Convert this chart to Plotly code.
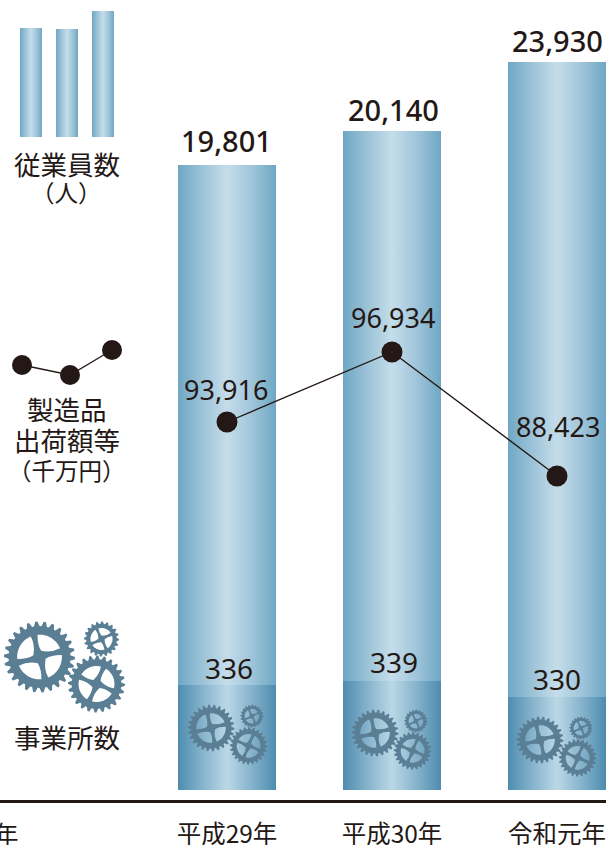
import math
import plotly.graph_objects as go

# ---- data -------------------------------------------------------------
years = ["平成29年", "平成30年", "令和元年"]
employees = ["19,801", "20,140", "23,930"]
shipments = ["93,916", "96,934", "88,423"]
sites = ["336", "339", "330"]
# drawn heights (the original artwork is not to scale)
employee_heights = [625, 659, 728]
shipment_heights = [368, 438, 314]
site_heights = [105, 109, 93]
# pictograph samples in the left-hand key
key_bar_heights = [109, 108, 126]
key_line_heights = [435, 425, 450]

INK = "#231815"
GEAR = "#5A7F95"
CJK = "Noto Sans CJK JP"
NUM = "Noto Sans"
UPPER = [[0, "#6FA7C4"], [0.25, "#9CC3D8"], [0.5, "#C5DDEA"], [0.75, "#A0C5DA"], [1, "#6FA7C4"]]
LOWER = [[0, "#4E8CAF"], [0.25, "#86B3CC"], [0.5, "#BAD8E6"], [0.75, "#86B3CC"], [1, "#4E8CAF"]]
BAR_W = 98 / 165

idx = list(range(len(years)))
fig = go.Figure()


def grad_rect(x0, x1, y0, y1, scale, **kw):
    fig.add_trace(go.Scatter(
        x=[x0, x1, x1, x0, x0], y=[y0, y0, y1, y1, y0], mode="lines",
        line=dict(width=0), fill="toself", hoverinfo="skip", showlegend=False,
        fillgradient=dict(type="horizontal", colorscale=scale), **kw))


fig.add_trace(go.Bar(x=idx, y=employee_heights, width=BAR_W, marker=dict(color="#A0C5DA", line_width=0), showlegend=False))
fig.add_trace(go.Bar(x=idx, y=site_heights, width=BAR_W, marker=dict(color="#86B3CC", line_width=0), showlegend=False))
for i in idx:
    grad_rect(i - BAR_W / 2, i + BAR_W / 2, 0, employee_heights[i], UPPER)
    grad_rect(i - BAR_W / 2, i + BAR_W / 2, 0, site_heights[i], LOWER)

fig.add_trace(go.Scatter(x=idx, y=shipment_heights, mode="lines+markers",
                         line=dict(color=INK, width=1.3),
                         marker=dict(color=INK, size=21), showlegend=False))

# key pictographs, on a pixel-like overlay axis pair
KEY_BASE = 137
for cx, h in zip([31, 67, 103], key_bar_heights):
    grad_rect(cx - 11, cx + 11, KEY_BASE, KEY_BASE - h, UPPER, xaxis="x2", yaxis="y2")
fig.add_trace(go.Scatter(x=[22, 70, 112], y=[800 - h for h in key_line_heights], xaxis="x2", yaxis="y2",
                         mode="lines+markers", line=dict(color=INK, width=1.3),
                         marker=dict(color=INK, size=20), showlegend=False))


def gear_path(cx, cy, R, teeth, rot):
    def P(r, deg):
        a = math.radians(deg)
        return f"{cx + r * R * math.cos(a):.2f},{cy + r * R * math.sin(a):.2f}"

    n = teeth * 4
    d = "M" + "L".join(P(1.0 if k % 4 in (0, 1) else 0.87, 360 * k / n) for k in range(n)) + "Z"
    ri, gap = 0.63, 9
    for q in range(4):
        s0 = rot + 90 * q
        s1 = s0 + 90
        apex = s0 + 30
        arc = [P(ri, s0 + gap + (90 - 2 * gap) * k / 12) for k in range(13)]
        d += "M" + "L".join(arc)
        d += f"Q{P(0.36, s1 - 5)} {P(0.18, apex)}"
        d += f"Q{P(0.34, s0 + 4)} {arc[0]}Z"
    return d


def gear_group(cx, cy, s):
    out = []
    for dx, dy, R, teeth, rot in [(0, 0, 35.5, 26, -14), (62, -18, 17.5, 20, -25), (57, 27, 28.5, 24, 23)]:
        out.append(dict(type="path", path=gear_path(cx + dx * s, cy + dy * s, R * s, teeth, rot),
                        xref="x2", yref="y2", fillcolor=GEAR, line=dict(width=0), layer="above"))
    return out


shapes = gear_group(39.5, 657, 1.0)
for c in [(211, 728), (375, 733), (540, 740)]:
    shapes += gear_group(c[0], c[1], 0.66)


def note(x, y, text, size, font=CJK, ref="2", yshift=0, xshift=0, xanchor="center", weight=None):
    f = dict(family=font, size=size, color=INK)
    if weight:
        f["weight"] = weight
    return dict(x=x, y=y, text=text, showarrow=False, xref="x" + ref, yref="y" + ref,
                yshift=yshift, xshift=xshift, xanchor=xanchor, yanchor="middle", align="center", font=f)


anns = []
for i in idx:
    anns.append(note(i, employee_heights[i], employees[i], 29, NUM, ref="", yshift=[25, 22, 22][i],
                     xshift=[-1, 1, 0][i], weight=500))
    anns.append(note(i, shipment_heights[i], shipments[i], 27, NUM, ref="", yshift=[33, 35, 50][i],
                     xshift=[-1, 1, 1][i]))
    anns.append(note(i, site_heights[i], sites[i], 28, NUM, ref="", yshift=[17, 19, 18][i],
                     xshift=[2, 2, 0][i]))
for x, y, t in [(66.5, 163, "従業員数"), (66.5, 192, "（人）"), (66.5, 408, "製造品"), (66.5, 439, "出荷額等"),
                (66.5, 470, "（千万円）"), (66.5, 736, "事業所数")]:
    anns.append(note(x, y, t, 26.5 if "（" not in t else 23.5))
# the clipped end of a cut-off label at the left edge, below the axis line
stub = note(21, 0, "年", 24.5, xanchor="right")
stub.update(yref="paper", y=-33 / 800)
anns.append(stub)

fig.update_layout(
    width=606, height=845, margin=dict(l=0, r=0, t=0, b=45),
    paper_bgcolor="white", plot_bgcolor="rgba(0,0,0,0)", barmode="overlay",
    showlegend=False, shapes=shapes, annotations=anns,
    xaxis=dict(range=[-227 / 165, 379 / 165], tickvals=idx, ticktext=years, showgrid=False, zeroline=False,
               automargin=False, showline=True, linecolor=INK, linewidth=2.5, ticks="", ticklabelstandoff=11,
               tickfont=dict(family=CJK, size=24.5, color=INK)),
    yaxis=dict(range=[-10, 790], visible=False, showgrid=False, zeroline=False, automargin=False),
    xaxis2=dict(range=[0, 606], overlaying="x", anchor="y2", visible=False),
    yaxis2=dict(range=[800, 0], overlaying="y", anchor="x2", visible=False),
)
fig.write_html("out.html", config=dict(displayModeBar=False), post_script="document.body.style.margin='0';")
